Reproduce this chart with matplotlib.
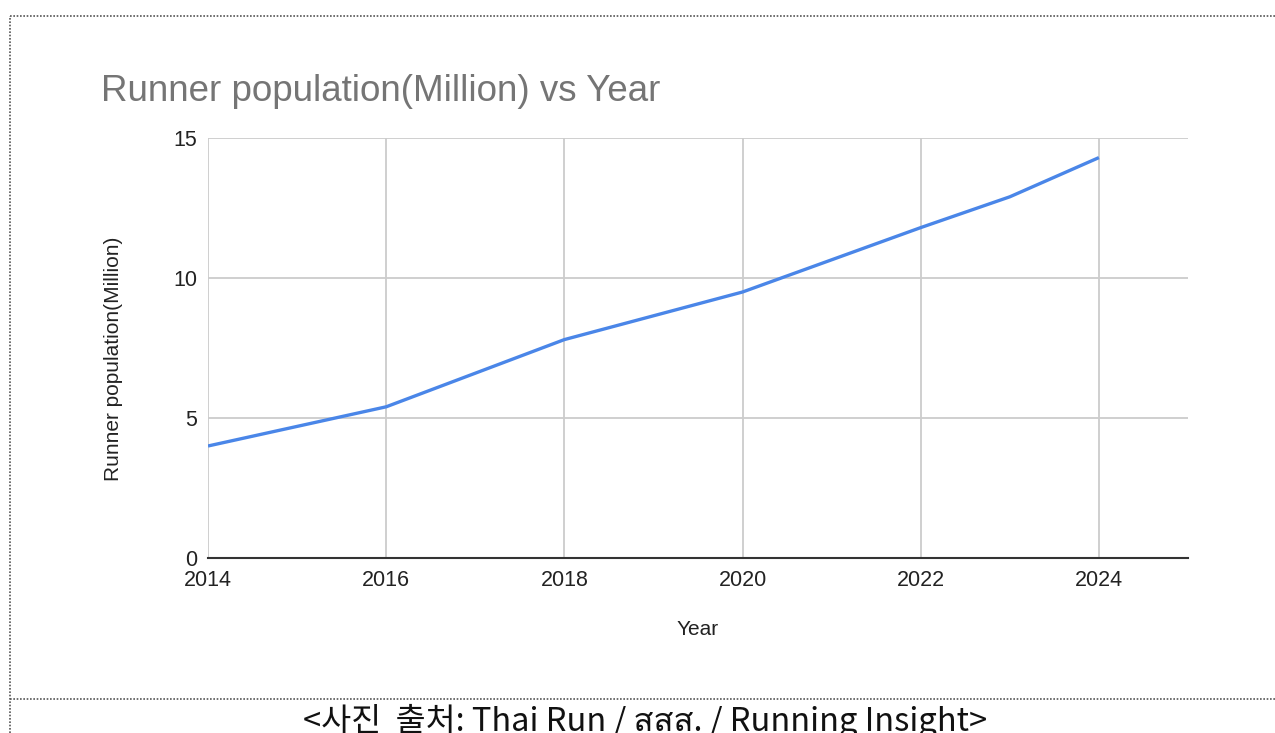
import matplotlib
matplotlib.use("Agg")
import matplotlib.pyplot as plt
from matplotlib.lines import Line2D
from matplotlib import font_manager
from matplotlib.ft2font import FT2Font

years = [2014, 2016, 2018, 2020, 2022, 2023, 2024]
runners = [4.0, 5.4, 7.8, 9.5, 11.8, 12.9, 14.3]
x_ticks = [2014, 2016, 2018, 2020, 2022, 2024]
y_ticks = [0, 5, 10, 15]

title = "Runner population(Million) vs Year"
caption = "<사진  출처: Thai Run / สสส. / Running Insight>"


def findThaiFamily():
    # look for any installed font that has Thai letters
    for f in font_manager.fontManager.ttflist:
        try:
            if 0x0E2A in FT2Font(f.fname).get_charmap():
                return f.name
        except Exception:
            pass
    return None


plt.rcParams['font.family'] = ['Liberation Sans', 'DejaVu Sans']

caption_fonts = ['Noto Sans CJK KR']
thai = findThaiFamily()
if thai:
    caption_fonts.append(thai)
caption_fonts.append('DejaVu Sans')

fig = plt.figure(figsize=(12.75, 7.33), dpi=100)
ax = fig.add_axes([208 / 1275, 1 - 558 / 733, 980 / 1275, 420 / 733])

ax.plot(years, runners, color="#4a86e8", linewidth=2.4, solid_capstyle="butt")

ax.set_xlim(2014, 2025)
ax.set_ylim(0, 15)
ax.set_xticks(x_ticks)
ax.set_yticks(y_ticks)
ax.grid(True, color="#cccccc", linewidth=1.3)
ax.set_axisbelow(True)
ax.tick_params(length=0, labelsize=15.5, colors="#222222")
ax.tick_params(axis="x", pad=9)
ax.tick_params(axis="y", pad=8)
for s in ["top", "right", "left"]:
    ax.spines[s].set_visible(False)
ax.spines["bottom"].set_color("#333333")
ax.spines["bottom"].set_linewidth(1.5)

ax.set_xlabel("Year", fontsize=15, color="#222222")
ax.xaxis.set_label_coords(0.5, -0.148)
ax.set_ylabel("Runner population(Million)", fontsize=15, color="#222222")
ax.yaxis.set_label_coords(-0.087, 0.474)

fig.text(101 / 1275, 1 - 101 / 733, title, fontsize=26.5, color="#757575",
         ha="left", va="baseline")

# dotted frame
dot = dict(color="#555555", linewidth=1.2, linestyle=(0, (1, 1)),
           transform=fig.transFigure)
fig.add_artist(Line2D([10 / 1275, 1], [1 - 16 / 733] * 2, **dot))
fig.add_artist(Line2D([10 / 1275] * 2, [0, 1 - 16 / 733], **dot))
fig.add_artist(Line2D([10 / 1275, 1], [1 - 699 / 733] * 2, **dot))

fig.text(645 / 1275, 1 - 731 / 733, caption, fontsize=23.5, color="#111111",
         ha="center", va="baseline", family=caption_fonts)

fig.savefig("out.png", dpi=100)
